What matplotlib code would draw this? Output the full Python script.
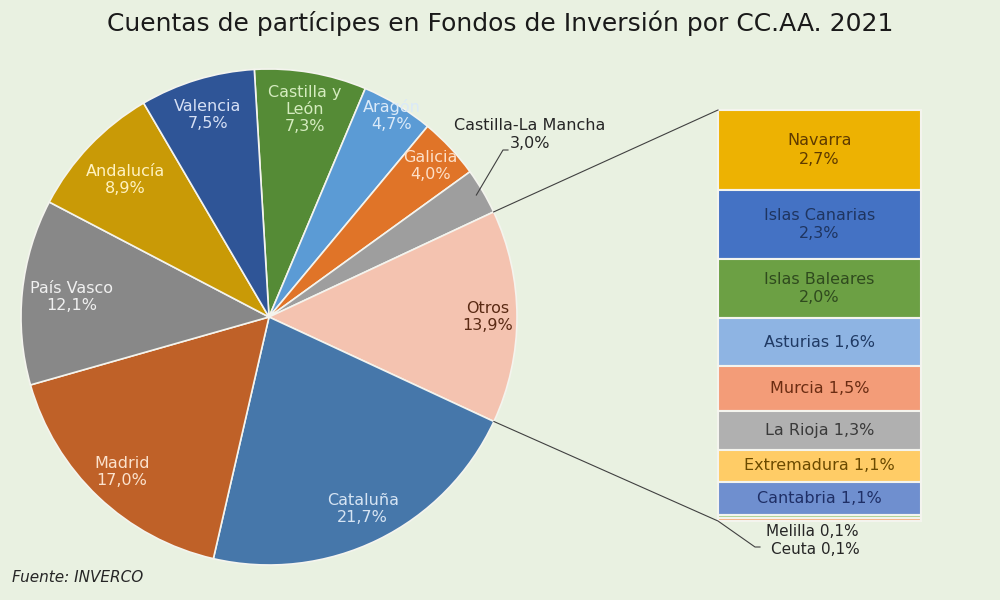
import matplotlib.pyplot as plt
import numpy as np

# pie data (clockwise from the top)
regiones = ['Castilla y\nLeón', 'Aragón', 'Galicia', 'Castilla-La Mancha', 'Otros',
            'Cataluña', 'Madrid', 'País Vasco', 'Andalucía', 'Valencia']
pct = [7.3, 4.7, 4.0, 3.0, 13.9, 21.7, 17.0, 12.1, 8.9, 7.5]
pie_colors = ['#558B36', '#5B9BD5', '#E07428', '#9E9E9E', '#F4C3B0',
              '#4677AA', '#BF6128', '#888888', '#C99A06', '#2F5597']
pie_text = ['#d5ecc0', '#dbeaf8', '#fde0c8', '#333333', '#5a2a14',
            '#d6e4f3', '#fbe2cd', '#f0f0f0', '#fff2c0', '#d6e0f5']
label_dist = [0.85, 0.95, 0.89, None, 0.88, 0.86, 0.86, 0.80, 0.80, 0.85]

# breakdown of "Otros" (top to bottom)
otros = ['Navarra', 'Islas Canarias', 'Islas Baleares', 'Asturias', 'Murcia',
         'La Rioja', 'Extremadura', 'Cantabria', 'Melilla', 'Ceuta']
otros_pct = [2.7, 2.3, 2.0, 1.6, 1.5, 1.3, 1.1, 1.1, 0.1, 0.1]
bar_colors = ['#EDB202', '#4472C4', '#6CA044', '#8EB4E3', '#F39C78',
              '#B0B0B0', '#FFCC66', '#6F8FCF', '#A9D18E', '#F4B183']
bar_text = ['#5e3a00', '#1f3560', '#2f4a1e', '#203a64', '#6a2c12',
            '#3a3a3a', '#6b4a00', '#1f2f66', '#333333', '#333333']
two_lines = ['Navarra', 'Islas Canarias', 'Islas Baleares']

def fmt(v):
    return f'{v:.1f}'.replace('.', ',') + '%'

plt.rcParams['font.family'] = ['DejaVu Sans']
bg = '#E9F1E1'
fig = plt.figure(figsize=(10, 6), dpi=100, facecolor=bg)
ax = fig.add_axes([0, 0, 1, 1])
ax.set_xlim(0, 1000)
ax.set_ylim(0, 600)
ax.set_aspect('equal')
ax.axis('off')

cx, cy, r = 269, 283, 248
wedges, _ = ax.pie(pct, colors=pie_colors, startangle=93.4, counterclock=False,
                   center=(cx, cy), radius=r, frame=True,
                   wedgeprops=dict(edgecolor='#f4f4ee', linewidth=1.2))
ax.set_xlim(0, 1000)
ax.set_ylim(0, 600)
ax.axis('off')

for w, name, v, tc, d in zip(wedges, regiones, pct, pie_text, label_dist):
    if d is None:
        continue
    ang = np.deg2rad((w.theta1 + w.theta2) / 2)
    x = cx + d * r * np.cos(ang)
    y = cy + d * r * np.sin(ang)
    ax.text(x, y, name + '\n' + fmt(v), ha='center', va='center', color=tc,
            fontsize=11.5, linespacing=1.15)

# Castilla-La Mancha outside with leader
clm = wedges[3]
ang = np.deg2rad((clm.theta1 + clm.theta2) / 2)
px, py = cx + 0.97 * r * np.cos(ang), cy + 0.97 * r * np.sin(ang)
ax.plot([px, 503, 508], [py, 450, 450], color='#404040', lw=0.8)
ax.text(530, 475, 'Castilla-La Mancha', ha='center', va='center', fontsize=11.5, color='#262626')
ax.text(530, 457, fmt(pct[3]), ha='center', va='center', fontsize=11.5, color='#262626')

# stacked bar for "Otros"
bx0, bx1 = 718, 921
btop, bbot = 490, 79
scale = (btop - bbot) / sum(otros_pct)
top = btop
for name, v, c, tc in zip(otros, otros_pct, bar_colors, bar_text):
    h = v * scale
    ax.bar((bx0 + bx1) / 2, h, width=bx1 - bx0, bottom=top - h, color=c,
           edgecolor='#f4f4ee', linewidth=1.5)
    mid = top - h / 2
    if name in two_lines:
        ax.text((bx0 + bx1) / 2, mid, name + '\n' + fmt(v), ha='center', va='center',
                color=tc, fontsize=11.5, linespacing=1.3)
    elif v >= 1:
        ax.text((bx0 + bx1) / 2, mid, name + ' ' + fmt(v), ha='center', va='center',
                color=tc, fontsize=11.5)
    top -= h

ax.text(812, 69, 'Melilla ' + fmt(otros_pct[8]), ha='center', va='center', fontsize=11, color='#262626')
ax.text(815, 51, 'Ceuta ' + fmt(otros_pct[9]), ha='center', va='center', fontsize=11, color='#262626')

# connectors from "Otros" slice to the bar
ow = wedges[4]
t1, t2 = np.deg2rad(ow.theta1), np.deg2rad(ow.theta2)
ax.plot([cx + r * np.cos(t2), bx0], [cy + r * np.sin(t2), btop], color='#404040', lw=0.8)
ax.plot([cx + r * np.cos(t1), bx0, 755, 760], [cy + r * np.sin(t1), bbot, 53, 53],
        color='#404040', lw=0.8)

ax.text(500, 577, 'Cuentas de partícipes en Fondos de Inversión por CC.AA. 2021',
        ha='center', va='center', fontsize=18, color='#1a1a1a')
ax.text(12, 22, 'Fuente: INVERCO', ha='left', va='center', fontsize=11,
        style='italic', color='#262626')

fig.savefig('out.png', dpi=100, facecolor=bg)
